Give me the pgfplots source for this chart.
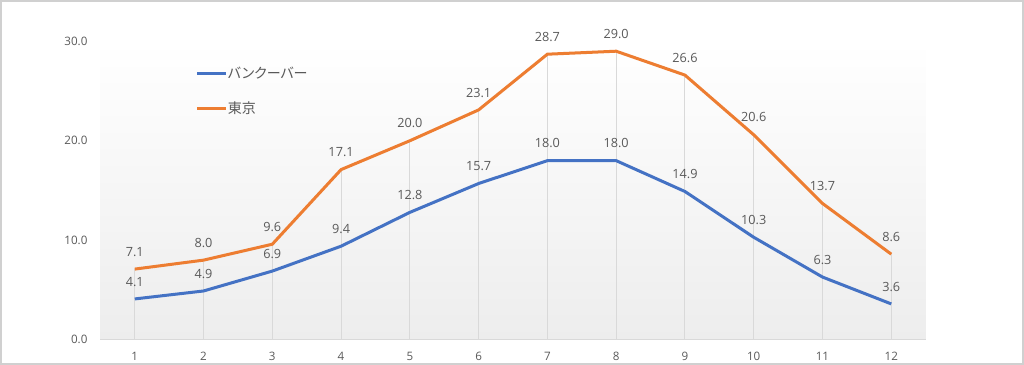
\documentclass[border=0pt]{standalone}
\usepackage{pgfplots}
\pgfplotsset{compat=1.18}
\usepackage{fontspec}
\setmainfont{Open Sans}
\newfontfamily\jp[RawFeature=+palt]{Noto Sans CJK JP}
\definecolor{cblue}{HTML}{4472C4}
\definecolor{corange}{HTML}{ED7D31}
\definecolor{ctext}{HTML}{595959}
\definecolor{cgrid}{HTML}{D9D9D9}
\definecolor{cframe}{HTML}{D0D0D0}
\definecolor{cbg}{HTML}{EDEDED}
\begin{document}
\begin{tikzpicture}
\draw[cframe, line width=1.2pt] (1.2pt,1.2pt) rectangle (766.8pt,273.3pt);
\begin{axis}[
  at={(75.75pt,19.5pt)}, anchor=south west,
  scale only axis, width=618pt, height=223.5pt,
  xmin=0.5, xmax=12.5, ymin=0, ymax=30,
  xtick={1,...,12}, ytick={0,10,20,30},
  major tick length=0pt,
  axis y line*=left, axis x line*=bottom,
  y axis line style={draw=none},
  x axis line style={cgrid, line width=1.1pt, -},
  axis background/.style={shade, top color=white, bottom color=cbg},
  /pgf/number format/.cd, fixed, fixed zerofill, precision=1, assume math mode=true,
  /pgfplots/.cd,
  ticklabel style={font=\fontsize{8.7}{10}\selectfont, text=ctext, inner sep=0pt},
  xticklabel style={anchor=center, yshift=-12.75pt},
  yticklabel style={anchor=east, xshift=-9.5pt},
  xticklabel={\pgfmathprintnumber[precision=0,fixed zerofill=false]{\tick}},
  nodes near coords,
  every node near coord/.append style={font=\fontsize{9.5}{11}\selectfont, text=ctext, anchor=center, yshift=13pt, inner sep=0pt},
  legend style={at={(0.115,0.915)}, anchor=north west, draw=none, fill=none, inner sep=0pt,
    font=\jp\fontsize{10.5}{12}\selectfont, text=ctext, row sep=15.8pt,
    nodes={inner sep=0pt, anchor=west}},
  legend cell align=left,
  legend image code/.code={\draw[#1, line width=2.25pt] (0pt,0pt) -- (22pt,0pt);},
  clip=false,
]
\addplot[ycomb, cgrid, line width=0.75pt, no markers, forget plot, nodes near coords=] coordinates {
(1,7.1)(2,8.0)(3,9.6)(4,17.1)(5,20.0)(6,23.1)(7,28.7)(8,29.0)(9,26.6)(10,20.6)(11,13.7)(12,8.6)};
\addplot[cblue, line width=2.25pt, no markers] coordinates {
(1,4.1)(2,4.9)(3,6.9)(4,9.4)(5,12.8)(6,15.7)(7,18.0)(8,18.0)(9,14.9)(10,10.3)(11,6.3)(12,3.6)};
\addlegendentry{バンクーバー}
\addplot[corange, line width=2.25pt, no markers] coordinates {
(1,7.1)(2,8.0)(3,9.6)(4,17.1)(5,20.0)(6,23.1)(7,28.7)(8,29.0)(9,26.6)(10,20.6)(11,13.7)(12,8.6)};
\addlegendentry{東京}
\end{axis}
\end{tikzpicture}
\end{document}
